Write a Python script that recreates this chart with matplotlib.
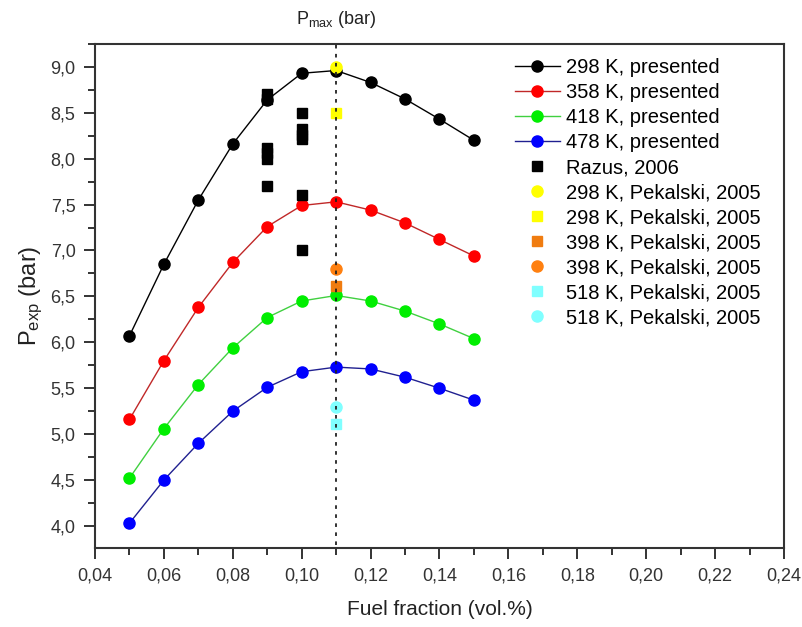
import matplotlib
matplotlib.use("Agg")
import matplotlib.pyplot as plt
from matplotlib.ticker import MultipleLocator, FuncFormatter

plt.rcParams["font.family"] = ["Liberation Sans", "DejaVu Sans"]
plt.rcParams["mathtext.default"] = "regular"

# fuel fraction grid of the presented runs
fuel = [0.05, 0.06, 0.07, 0.08, 0.09, 0.10, 0.11, 0.12, 0.13, 0.14, 0.15]
p_298 = [6.07, 6.85, 7.55, 8.16, 8.64, 8.93, 8.96, 8.83, 8.65, 8.43, 8.20]
p_358 = [5.16, 5.80, 6.38, 6.87, 7.26, 7.49, 7.53, 7.44, 7.30, 7.12, 6.94]
p_418 = [4.52, 5.06, 5.54, 5.94, 6.27, 6.45, 6.51, 6.45, 6.34, 6.20, 6.04]
p_478 = [4.03, 4.50, 4.90, 5.25, 5.51, 5.68, 5.73, 5.71, 5.62, 5.50, 5.37]

# literature points
razus_x = [0.09, 0.09, 0.09, 0.09, 0.09, 0.09, 0.10, 0.10, 0.10, 0.10, 0.10, 0.10]
razus_p = [8.70, 8.65, 8.12, 8.06, 8.00, 7.70, 8.50, 8.32, 8.26, 8.21, 7.60, 7.00]
pmax_x = 0.11
pek_298_circle, pek_298_square = 9.00, 8.50
pek_398_square, pek_398_circle = 6.61, 6.80
pek_518_square, pek_518_circle = 5.11, 5.30

fig = plt.figure(figsize=(8.03, 6.27), dpi=100)
ax = fig.add_axes([0.1183, 0.126, 0.858, 0.804])

series = [
    (p_298, "#000000", "#000000", "298 K, presented"),
    (p_358, "#ff0000", "#c02828", "358 K, presented"),
    (p_418, "#00ee00", "#40d040", "418 K, presented"),
    (p_478, "#0000ff", "#202090", "478 K, presented"),
]
for vals, mc, lc, lab in series:
    ax.plot(fuel, vals, "-", color=lc, lw=1.0, marker="o", ms=8,
            mfc=mc, mec=mc, label=lab, zorder=3)

ax.plot(razus_x, razus_p, "s", color="black", ms=7.2, ls="none",
        label="Razus, 2006", zorder=4)
ax.plot([pmax_x], [pek_298_circle], "o", color="#ffff00", ms=8, ls="none",
        label="298 K, Pekalski, 2005", zorder=5)
ax.plot([pmax_x], [pek_298_square], "s", color="#ffff00", ms=7.2, ls="none",
        label="298 K, Pekalski, 2005", zorder=5)
ax.plot([pmax_x], [pek_398_square], "s", color="#f07c10", ms=7.2, ls="none",
        label="398 K, Pekalski, 2005", zorder=5)
ax.plot([pmax_x], [pek_398_circle], "o", color="#ff8010", ms=8, ls="none",
        label="398 K, Pekalski, 2005", zorder=5)
ax.plot([pmax_x], [pek_518_square], "s", color="#80ffff", ms=7.2, ls="none",
        label="518 K, Pekalski, 2005", zorder=5)
ax.plot([pmax_x], [pek_518_circle], "o", color="#80ffff", ms=8, ls="none",
        label="518 K, Pekalski, 2005", zorder=5)

# dotted P_max marker line
ax.plot([pmax_x, pmax_x], [3.79, 9.29], ls=(0, (2, 3)), color="#222222",
        lw=1.3, clip_on=False, zorder=6)
ax.text(pmax_x, 9.52, r"P$_{max}$ (bar)", ha="center", va="center",
        fontsize=13, color="#222222")

ax.set_xlim(0.04, 0.24)
ax.set_ylim(3.76, 9.25)
ax.xaxis.set_major_locator(MultipleLocator(0.02))
ax.xaxis.set_minor_locator(MultipleLocator(0.01))
ax.yaxis.set_major_locator(MultipleLocator(0.5))
ax.yaxis.set_minor_locator(MultipleLocator(0.25))
ax.xaxis.set_major_formatter(FuncFormatter(lambda v, p: f"{v:.2f}".replace(".", ",")))
ax.yaxis.set_major_formatter(FuncFormatter(lambda v, p: f"{v:.1f}".replace(".", ",")))

ax.tick_params(which="both", direction="out", color="#333333", width=1.4,
               labelsize=13, labelcolor="#333333")
ax.tick_params(which="major", length=8, pad=6)
ax.tick_params(which="minor", length=5)
for s in ax.spines.values():
    s.set_linewidth(1.5)
    s.set_color("#333333")

ax.set_xlabel("Fuel fraction (vol.%)", fontsize=15, color="#222222", labelpad=11)
ax.set_ylabel(r"P$_{exp}$ (bar)", fontsize=17, color="#222222", labelpad=4)

ax.legend(loc="upper left", bbox_to_anchor=(0.61, 0.972), frameon=False,
          fontsize=14.5, numpoints=1, handlelength=2.2, handletextpad=0.3,
          labelspacing=0.3, borderpad=0, borderaxespad=0)

fig.savefig("out.png", dpi=100)
